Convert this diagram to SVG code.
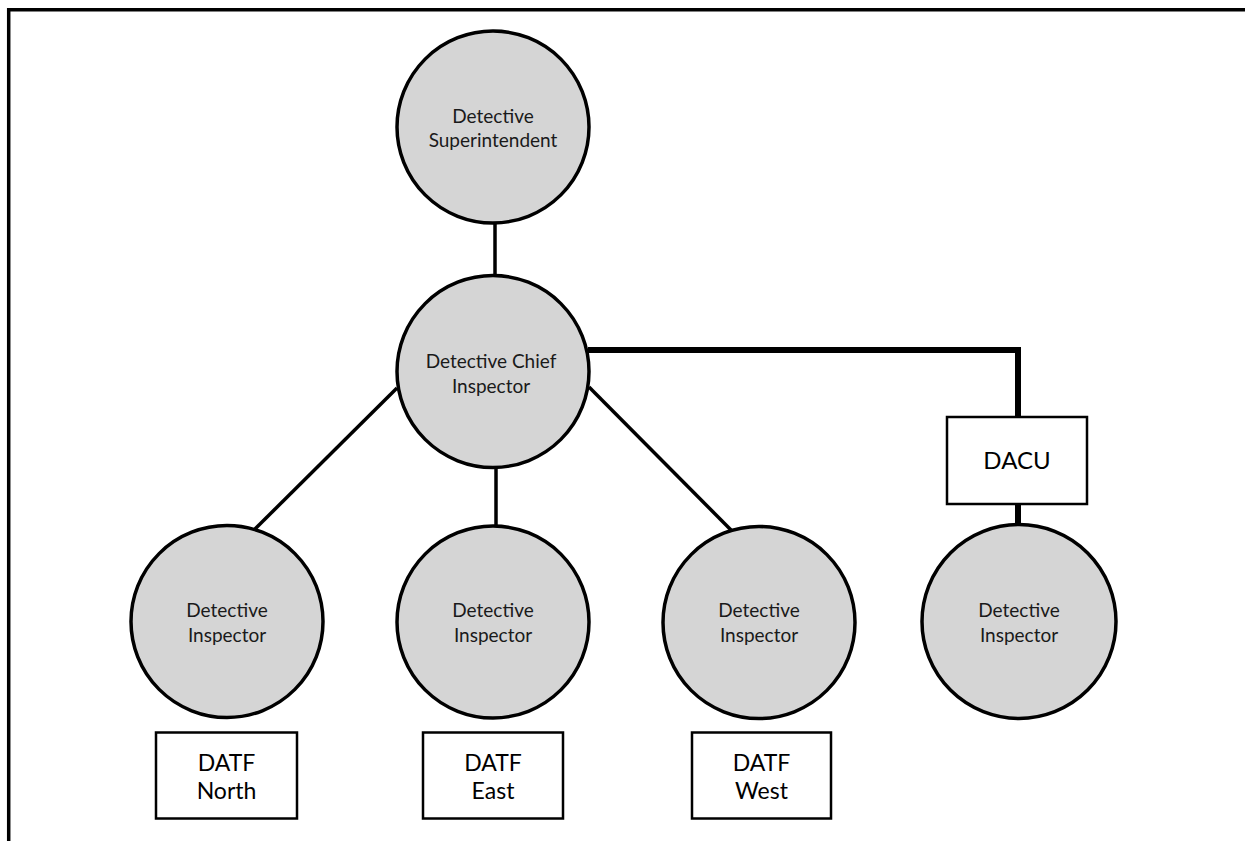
<svg xmlns="http://www.w3.org/2000/svg" width="1245" height="841" viewBox="0 0 1245 841">
<style>
.c{fill:#d5d5d5;stroke:#000;stroke-width:3.5}
.b{fill:#fff;stroke:#000;stroke-width:2.5}
.l{stroke:#000;stroke-width:3.5;fill:none}
.t{stroke:#000;stroke-width:6;fill:none}
.s{font-family:Lato,"Liberation Sans",sans-serif;font-size:19px;fill:#1a1a1a;text-anchor:middle}
.m{font-family:Lato,"Liberation Sans",sans-serif;font-size:24px;fill:#000;text-anchor:middle}
.n{font-family:Lato,"Liberation Sans",sans-serif;font-size:23px;fill:#000;text-anchor:middle}
</style>
<rect width="1245" height="841" fill="#fff"/>
<path d="M8.7,841 V9.7 H1245" fill="none" stroke="#000" stroke-width="3.5"/>
<g id="connectors">
<line class="l" x1="495" y1="222" x2="495" y2="277"/>
<line class="l" x1="496" y1="466" x2="496" y2="527"/>
<line class="l" x1="397" y1="388" x2="255" y2="529"/>
<line class="l" x1="589" y1="387" x2="731" y2="530"/>
<path class="t" d="M588,350 H1018 V417"/>
<line class="t" x1="1018" y1="503" x2="1018" y2="526"/>
</g>
<g id="ds"><circle class="c" cx="493" cy="127" r="96"/><text class="s" x="493" y="123">Detective</text><text class="s" x="493" y="147">Superintendent</text></g>
<g id="dci"><circle class="c" cx="493" cy="371.5" r="96"/><text class="s" x="491" y="368">Detective Chief</text><text class="s" x="491" y="393">Inspector</text></g>
<g id="di-north"><circle class="c" cx="227" cy="621.5" r="96"/><text class="s" x="227" y="617">Detective</text><text class="s" x="227" y="642">Inspector</text></g>
<g id="di-east"><circle class="c" cx="493" cy="622" r="96"/><text class="s" x="493" y="617">Detective</text><text class="s" x="493" y="642">Inspector</text></g>
<g id="di-west"><circle class="c" cx="759" cy="622.5" r="96"/><text class="s" x="759" y="617">Detective</text><text class="s" x="759" y="642">Inspector</text></g>
<g id="di-dacu"><circle class="c" cx="1019" cy="621.5" r="97"/><text class="s" x="1019" y="617">Detective</text><text class="s" x="1019" y="642">Inspector</text></g>
<g id="dacu"><rect class="b" x="947" y="417" width="140" height="87"/><text class="m" x="1017" y="469">DACU</text></g>
<g id="datf-north"><rect class="b" x="156" y="732.5" width="141" height="86"/><text class="n" x="226.5" y="771">DATF</text><text class="n" x="226.5" y="799">North</text></g>
<g id="datf-east"><rect class="b" x="423" y="732.5" width="140" height="86"/><text class="n" x="493" y="771">DATF</text><text class="n" x="493" y="799">East</text></g>
<g id="datf-west"><rect class="b" x="692" y="732.5" width="139" height="86"/><text class="n" x="761.5" y="771">DATF</text><text class="n" x="761.5" y="799">West</text></g>
</svg>
